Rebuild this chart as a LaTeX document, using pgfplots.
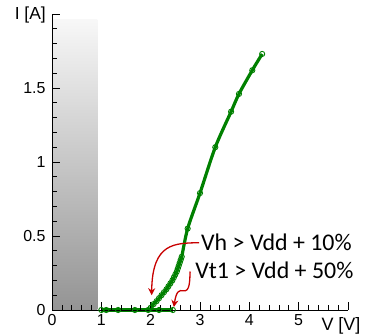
\documentclass[border=0pt]{standalone}
\usepackage{pgfplots}
\pgfplotsset{compat=1.18}
\usepackage{fontspec}
\setmainfont{Liberation Sans}
\newfontfamily\calib{Carlito}
\usetikzlibrary{arrows.meta}
\definecolor{dgreen}{RGB}{0,128,0}
\definecolor{ared}{RGB}{200,0,0}
\begin{document}
\begin{tikzpicture}
\begin{axis}[
  at={(0,0)}, anchor=south west,
  scale only axis, width=296bp, height=296bp,
  xmin=0, xmax=6, ymin=0, ymax=2,
  axis lines=left, axis line style={-, line width=0.8pt},
  axis on top,
  xtick={0,1,2,3,4,5,6}, xticklabels={0,1,2,3,4,5,},
  ytick={0,0.5,1,1.5,2}, yticklabels={0,0.5,1,1.5,},
  minor x tick num=4, minor y tick num=4,
  tick align=inside,
  major tick length=8bp, minor tick length=5bp,
  tick style={black, line width=0.7pt},
  tick label style={font=\fontsize{16}{18}\selectfont},
  /pgf/number format/assume math mode=true,
  xticklabel style={yshift=-1bp},
  yticklabel style={xshift=-3bp},
  clip=false,
]
\fill[top color=white!97!black, bottom color=black!42] (axis cs:0,0) rectangle (axis cs:0.92,1.96);
\addplot[dgreen, line width=3bp, mark=o, mark size=2.6bp,
  mark options={line width=0.9bp, fill=white, draw=dgreen}] coordinates {
  (1.0,0) (1.10,0) (1.34,0) (1.68,0) (1.95,0) (2.17,0) (2.45,0)
};
\addplot[dgreen, line width=3.2bp, smooth, mark=o, mark size=2.6bp,
  mark options={line width=0.9bp, fill=white, draw=dgreen}] coordinates {
  (2.00,0.015) (2.06,0.04) (2.12,0.06) (2.17,0.08) (2.22,0.10) (2.27,0.12)
  (2.32,0.14) (2.36,0.16) (2.40,0.18) (2.44,0.20) (2.47,0.22) (2.50,0.24)
  (2.53,0.26) (2.55,0.28) (2.57,0.30) (2.59,0.32) (2.61,0.34) (2.63,0.36)
  (2.75,0.55) (3.00,0.79) (3.31,1.10) (3.63,1.34) (3.79,1.46) (4.06,1.62) (4.26,1.73)
};
\draw[ared, line width=1.3bp, -{Stealth[length=7bp,width=7bp]}]
  (axis cs:2.98,0.455) .. controls (axis cs:2.5,0.45) and (axis cs:2.03,0.46) .. (axis cs:2.02,0.10);
\draw[ared, line width=1.3bp, -{Stealth[length=7bp,width=7bp]}]
  (axis cs:2.80,0.26) .. controls (axis cs:2.79,0.20) and (axis cs:2.80,0.12) .. (axis cs:2.66,0.13)
  .. controls (axis cs:2.58,0.135) and (axis cs:2.52,0.13) .. (axis cs:2.47,0.02);
\node[anchor=west, inner sep=0pt, font=\calib\fontsize{24}{26}\selectfont] at (axis cs:3.02,0.455) {Vh > Vdd + 10\%};
\node[anchor=west, inner sep=0pt, font=\calib\fontsize{24}{26}\selectfont] at (axis cs:2.90,0.265) {Vt1 > Vdd + 50\%};
\node[anchor=east, inner sep=0pt, font=\fontsize{17.5}{19}\selectfont] at ([xshift=-6bp,yshift=-1bp]rel axis cs:0,1) {I [A]};
\node[anchor=north, inner sep=0pt, font=\fontsize{18}{20}\selectfont] at ([xshift=-7bp,yshift=-7bp]rel axis cs:1,0) {V [V]};
\end{axis}
\pgfresetboundingbox
\path (-52bp,-25bp) rectangle (313bp,310bp);
\end{tikzpicture}
\end{document}
